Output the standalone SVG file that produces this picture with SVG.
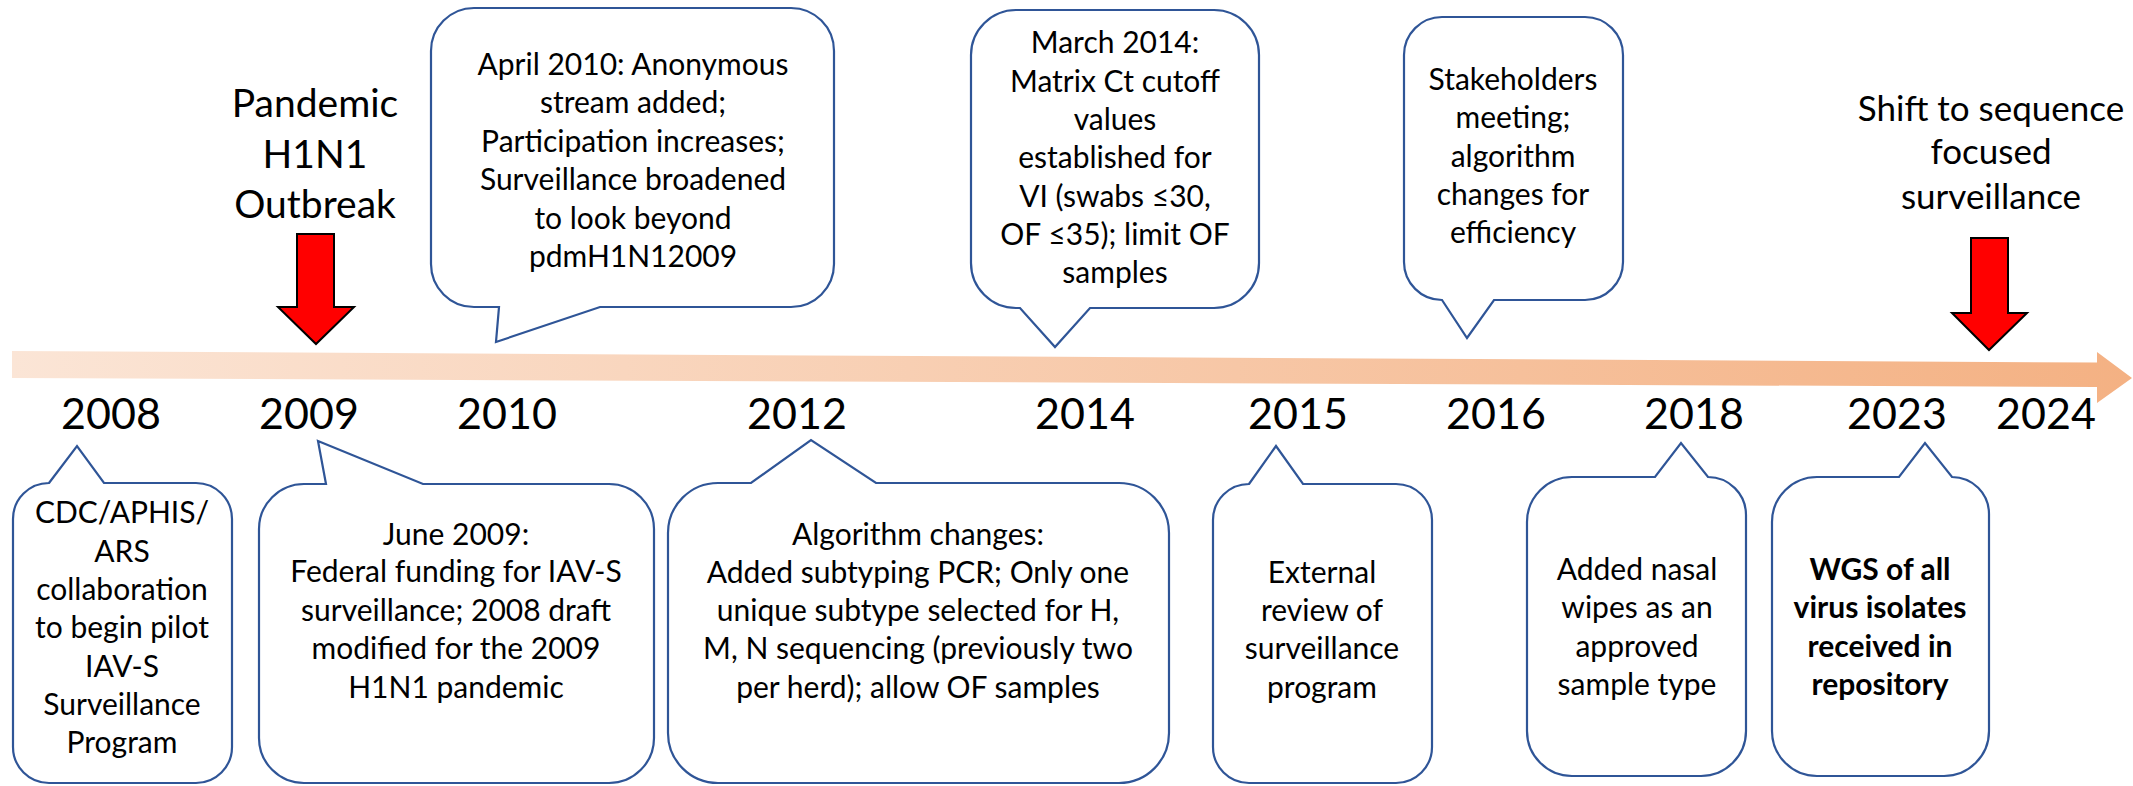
<svg xmlns="http://www.w3.org/2000/svg" width="2133" height="786" viewBox="0 0 2133 786">
  <defs>
    <linearGradient id="barGrad" x1="12" y1="0" x2="2133" y2="0" gradientUnits="userSpaceOnUse">
      <stop offset="0" stop-color="#FBE5D6"/>
      <stop offset="1" stop-color="#F4B183"/>
    </linearGradient>
    <style>
      text { font-family: Lato, "Liberation Sans", sans-serif; fill: #000; text-anchor: middle; }
      .body { font-size: 30px; }
      .bold { font-weight: bold; }
      .year { font-size: 43px; }
      .head { font-size: 39px; }
      .head2 { font-size: 35px; }
      .bubble { fill: #fff; stroke: #2F5597; stroke-width: 2.2; stroke-linejoin: miter; }
      .down { fill: #FF0000; stroke: #000; stroke-width: 2; stroke-linejoin: miter; }
    </style>
  </defs>
  <rect width="2133" height="786" fill="#fff"/>

  <!-- timeline arrow -->
  <g id="timeline">
    <polygon points="12,351 2097,362.5 2097,352 2132,378 2097,403 2097,387 12,378" fill="url(#barGrad)"/>
  </g>

  <!-- year labels -->
  <g id="years" class="year">
    <text class="year" x="111" y="429">2008</text>
    <text class="year" x="309" y="429">2009</text>
    <text class="year" x="507" y="429">2010</text>
    <text class="year" x="797" y="429">2012</text>
    <text class="year" x="1085" y="429">2014</text>
    <text class="year" x="1298" y="429">2015</text>
    <text class="year" x="1496" y="429">2016</text>
    <text class="year" x="1694" y="429">2018</text>
    <text class="year" x="1897" y="429">2023</text>
    <text class="year" x="2046" y="429">2024</text>
  </g>

  <!-- pandemic marker -->
  <g id="pandemic">
    <text class="head" x="315" y="117">Pandemic</text>
    <text class="head" x="315" y="168">H1N1</text>
    <text class="head" x="315" y="218">Outbreak</text>
    <polygon class="down" points="297,234 334,234 334,307 354,307 316,344 278,307 297,307"/>
  </g>

  <!-- sequence shift marker -->
  <g id="shift">
    <text class="head2" x="1991" y="121">Shift to sequence</text>
    <text class="head2" x="1991" y="164">focused</text>
    <text class="head2" x="1991" y="209">surveillance</text>
    <polygon class="down" points="1971,238 2008,238 2008,313 2027,313 1989,350 1952,313 1971,313"/>
  </g>

  <!-- callouts above the timeline -->
  <g id="april2010">
    <path class="bubble" d="M474,8 H791 A43,43 0 0 1 834,51 V264 A43,43 0 0 1 791,307 H600 L496,342 L499,307 H474 A43,43 0 0 1 431,264 V51 A43,43 0 0 1 474,8 Z"/>
    <text class="body" x="633" y="75">April 2010: Anonymous</text>
    <text class="body" x="633" y="113">stream added;</text>
    <text class="body" x="633" y="152">Participation increases;</text>
    <text class="body" x="633" y="190">Surveillance broadened</text>
    <text class="body" x="633" y="229">to look beyond</text>
    <text class="body" x="633" y="267">pdmH1N12009</text>
  </g>

  <g id="march2014">
    <path class="bubble" d="M1016,10 H1214 A45,45 0 0 1 1259,55 V263 A45,45 0 0 1 1214,308 H1090 L1055,347 L1020,308 H1016 A45,45 0 0 1 971,263 V55 A45,45 0 0 1 1016,10 Z"/>
    <text class="body" x="1115" y="53">March 2014:</text>
    <text class="body" x="1115" y="92">Matrix Ct cutoff</text>
    <text class="body" x="1115" y="130">values</text>
    <text class="body" x="1115" y="168">established for</text>
    <text class="body" x="1115" y="207">VI (swabs ≤30,</text>
    <text class="body" x="1115" y="245">OF ≤35); limit OF</text>
    <text class="body" x="1115" y="283">samples</text>
  </g>

  <g id="stakeholders">
    <path class="bubble" d="M1442,17 H1585 A38,38 0 0 1 1623,55 V262 A38,38 0 0 1 1585,300 H1494 L1467,338 L1442,300 A38,38 0 0 1 1404,262 V55 A38,38 0 0 1 1442,17 Z"/>
    <text class="body" x="1513" y="90">Stakeholders</text>
    <text class="body" x="1513" y="128">meeting;</text>
    <text class="body" x="1513" y="167">algorithm</text>
    <text class="body" x="1513" y="205">changes for</text>
    <text class="body" x="1513" y="243">efficiency</text>
  </g>

  <!-- callouts below the timeline -->
  <g id="pilot2008">
    <path class="bubble" d="M49,483 L77,446 L104,483 H196 A36,36 0 0 1 232,519 V747 A36,36 0 0 1 196,783 H49 A36,36 0 0 1 13,747 V519 A36,36 0 0 1 49,483 Z"/>
    <text class="body" x="122" y="523">CDC/APHIS/</text>
    <text class="body" x="122" y="562">ARS</text>
    <text class="body" x="122" y="600">collaboration</text>
    <text class="body" x="122" y="638">to begin pilot</text>
    <text class="body" x="122" y="677">IAV-S</text>
    <text class="body" x="122" y="715">Surveillance</text>
    <text class="body" x="122" y="753">Program</text>
  </g>

  <g id="june2009">
    <path class="bubble" d="M304,484 H326 L318,441 L423,484 H609 A45,45 0 0 1 654,529 V738 A45,45 0 0 1 609,783 H304 A45,45 0 0 1 259,738 V529 A45,45 0 0 1 304,484 Z"/>
    <text class="body" x="456" y="545">June 2009:</text>
    <text class="body" x="456" y="582">Federal funding for IAV-S</text>
    <text class="body" x="456" y="621">surveillance; 2008 draft</text>
    <text class="body" x="456" y="659">modified for the 2009</text>
    <text class="body" x="456" y="698">H1N1 pandemic</text>
  </g>

  <g id="algorithm2012">
    <path class="bubble" d="M718,483 H751 L811,440 L876,483 H1119 A50,50 0 0 1 1169,533 V733 A50,50 0 0 1 1119,783 H718 A50,50 0 0 1 668,733 V533 A50,50 0 0 1 718,483 Z"/>
    <text class="body" x="918" y="545">Algorithm changes:</text>
    <text class="body" x="918" y="583">Added subtyping PCR; Only one</text>
    <text class="body" x="918" y="621">unique subtype selected for H,</text>
    <text class="body" x="918" y="659">M, N sequencing (previously two</text>
    <text class="body" x="918" y="698">per herd); allow OF samples</text>
  </g>

  <g id="review2015">
    <path class="bubble" d="M1249,484 L1276,446 L1303,484 H1396 A36,36 0 0 1 1432,520 V747 A36,36 0 0 1 1396,783 H1249 A36,36 0 0 1 1213,747 V520 A36,36 0 0 1 1249,484 Z"/>
    <text class="body" x="1322" y="583">External</text>
    <text class="body" x="1322" y="621">review of</text>
    <text class="body" x="1322" y="659">surveillance</text>
    <text class="body" x="1322" y="698">program</text>
  </g>

  <g id="nasal2018">
    <path class="bubble" d="M1572,477 H1655 L1681,443 L1708,477 A38,38 0 0 1 1746,515 V731 A45,45 0 0 1 1701,776 H1572 A45,45 0 0 1 1527,731 V522 A45,45 0 0 1 1572,477 Z"/>
    <text class="body" x="1637" y="580">Added nasal</text>
    <text class="body" x="1637" y="618">wipes as an</text>
    <text class="body" x="1637" y="657">approved</text>
    <text class="body" x="1637" y="695">sample type</text>
  </g>

  <g id="wgs2023">
    <path class="bubble" d="M1817,477 H1899 L1925,443 L1952,477 A37,37 0 0 1 1989,514 V731 A45,45 0 0 1 1944,776 H1817 A45,45 0 0 1 1772,731 V522 A45,45 0 0 1 1817,477 Z"/>
    <text class="body bold" x="1880" y="580">WGS of all</text>
    <text class="body bold" x="1880" y="618">virus isolates</text>
    <text class="body bold" x="1880" y="657">received in</text>
    <text class="body bold" x="1880" y="695">repository</text>
  </g>
</svg>
